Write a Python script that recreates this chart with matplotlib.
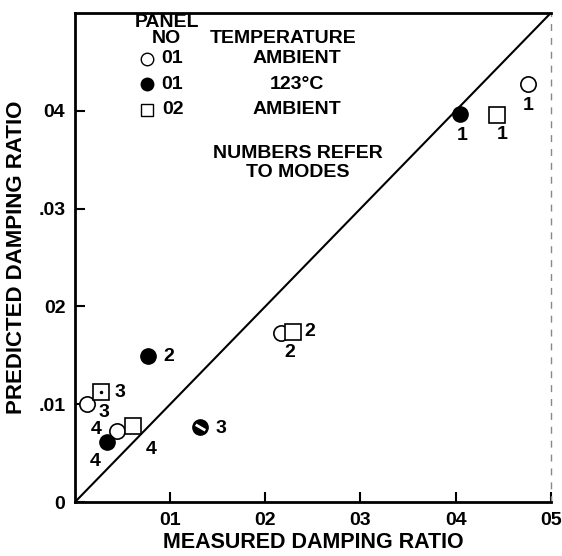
import matplotlib
matplotlib.use('Agg')
from matplotlib import pyplot as plt

# measured / predicted damping ratios, by mode
open_x = [0.0476, 0.0217, 0.0013, 0.0044]
open_y = [0.0427, 0.0173, 0.0100, 0.0073]
filled_x = [0.0405, 0.0077, 0.0131, 0.0034]
filled_y = [0.0397, 0.0149, 0.0077, 0.0061]
square_x = [0.0443, 0.0229, 0.0027, 0.0061]
square_y = [0.0396, 0.0174, 0.0112, 0.0078]
modes = ['1', '2', '3', '4']

x_ticks = [0.01, 0.02, 0.03, 0.04, 0.05]
x_labels = ['01', '02', '03', '04', '05']
y_ticks = [0, 0.01, 0.02, 0.03, 0.04]
y_labels = ['0', '.01', '02', '.03', '04']

plt.rcParams['font.family'] = ['Liberation Sans', 'DejaVu Sans']
plt.rcParams['font.weight'] = 'bold'
plt.rcParams['axes.labelweight'] = 'bold'

fig = plt.figure(figsize=(5.62, 5.56), dpi=100)
ax = fig.add_axes([0.1335, 0.0971, 0.8465, 0.8795])
ax.set_xlim(0, 0.05)
ax.set_ylim(0, 0.05)

ax.plot([0, 0.05], [0, 0.05], color='black', lw=1.5)

ax.plot(open_x, open_y, 'o', ms=11, mfc='white', mec='black', mew=1.2, ls='none')
ax.plot(filled_x, filled_y, 'o', ms=11, mfc='black', mec='black', ls='none')
ax.plot(square_x, square_y, 's', ms=11, mfc='white', mec='black', mew=1.2, ls='none')
# scan details: slash through filled mode 3, dot inside square mode 3
ax.plot(filled_x[2], filled_y[2], marker=(2, 0, 60), ms=8, mec='white', mew=2)
ax.plot(square_x[2], square_y[2], '.', ms=3, color='black')

fs = 14
# mode numbers next to the points (offsets in points)
open_off = [(0, -15), None, (12, -6), (-15, 1)]
filled_off = [(1, -16), (15, 0), (15, -1), (-9, -14)]
square_off = [(4, -14), (12, 0), (14, 0), (13, -17)]
for xs, ys, offs in [(open_x, open_y, open_off), (filled_x, filled_y, filled_off),
                     (square_x, square_y, square_off)]:
    for x, y, m, off in zip(xs, ys, modes, offs):
        if off is None:
            continue
        ax.annotate(m, (x, y), xytext=off, textcoords='offset points',
                    ha='center', va='center', fontsize=fs)
# shared "2" below the open circle / square pair
ax.annotate('2', (open_x[1], open_y[1]), xytext=(6, -14), textcoords='offset points',
            ha='center', va='center', fontsize=fs)

# legend block
t = ax.transAxes
lfs = 14
ax.text(0.193, 0.980, 'PANEL', transform=t, ha='center', va='center', fontsize=lfs)
ax.text(0.193, 0.948, 'NO', transform=t, ha='center', va='center', fontsize=lfs)
ax.text(0.437, 0.948, 'TEMPERATURE', transform=t, ha='center', va='center', fontsize=lfs)
rows = [('o', 'white', 'AMBIENT'), ('o', 'black', '123°C'), ('s', 'white', 'AMBIENT')]
panels = ['01', '01', '02']
for i, (mk, fc, temp) in enumerate(rows):
    yy = 0.906 - i * 0.052
    ax.plot([0.151], [yy], mk, ms=9, mfc=fc, mec='black', mew=1, transform=t, clip_on=False)
    ax.text(0.205, yy, panels[i], transform=t, ha='center', va='center', fontsize=lfs)
    ax.text(0.467, yy, temp, transform=t, ha='center', va='center', fontsize=lfs)
ax.text(0.469, 0.712, 'NUMBERS REFER', transform=t, ha='center', va='center', fontsize=lfs)
ax.text(0.469, 0.673, 'TO MODES', transform=t, ha='center', va='center', fontsize=lfs)

ax.set_xticks(x_ticks)
ax.set_xticklabels(x_labels)
ax.set_yticks(y_ticks)
ax.set_yticklabels(y_labels)
ax.tick_params(direction='in', length=7, width=1.5, labelsize=fs, pad=7)
ax.set_xlabel('MEASURED DAMPING RATIO', fontsize=15.5, labelpad=2)
ax.set_ylabel('PREDICTED DAMPING RATIO', fontsize=16, labelpad=8)

for s in ['left', 'bottom', 'top']:
    ax.spines[s].set_linewidth(2)
ax.spines['right'].set_linewidth(1)
ax.spines['right'].set_linestyle((0, (4, 6)))
ax.spines['right'].set_color('#888888')

fig.savefig('out.png', dpi=100)
